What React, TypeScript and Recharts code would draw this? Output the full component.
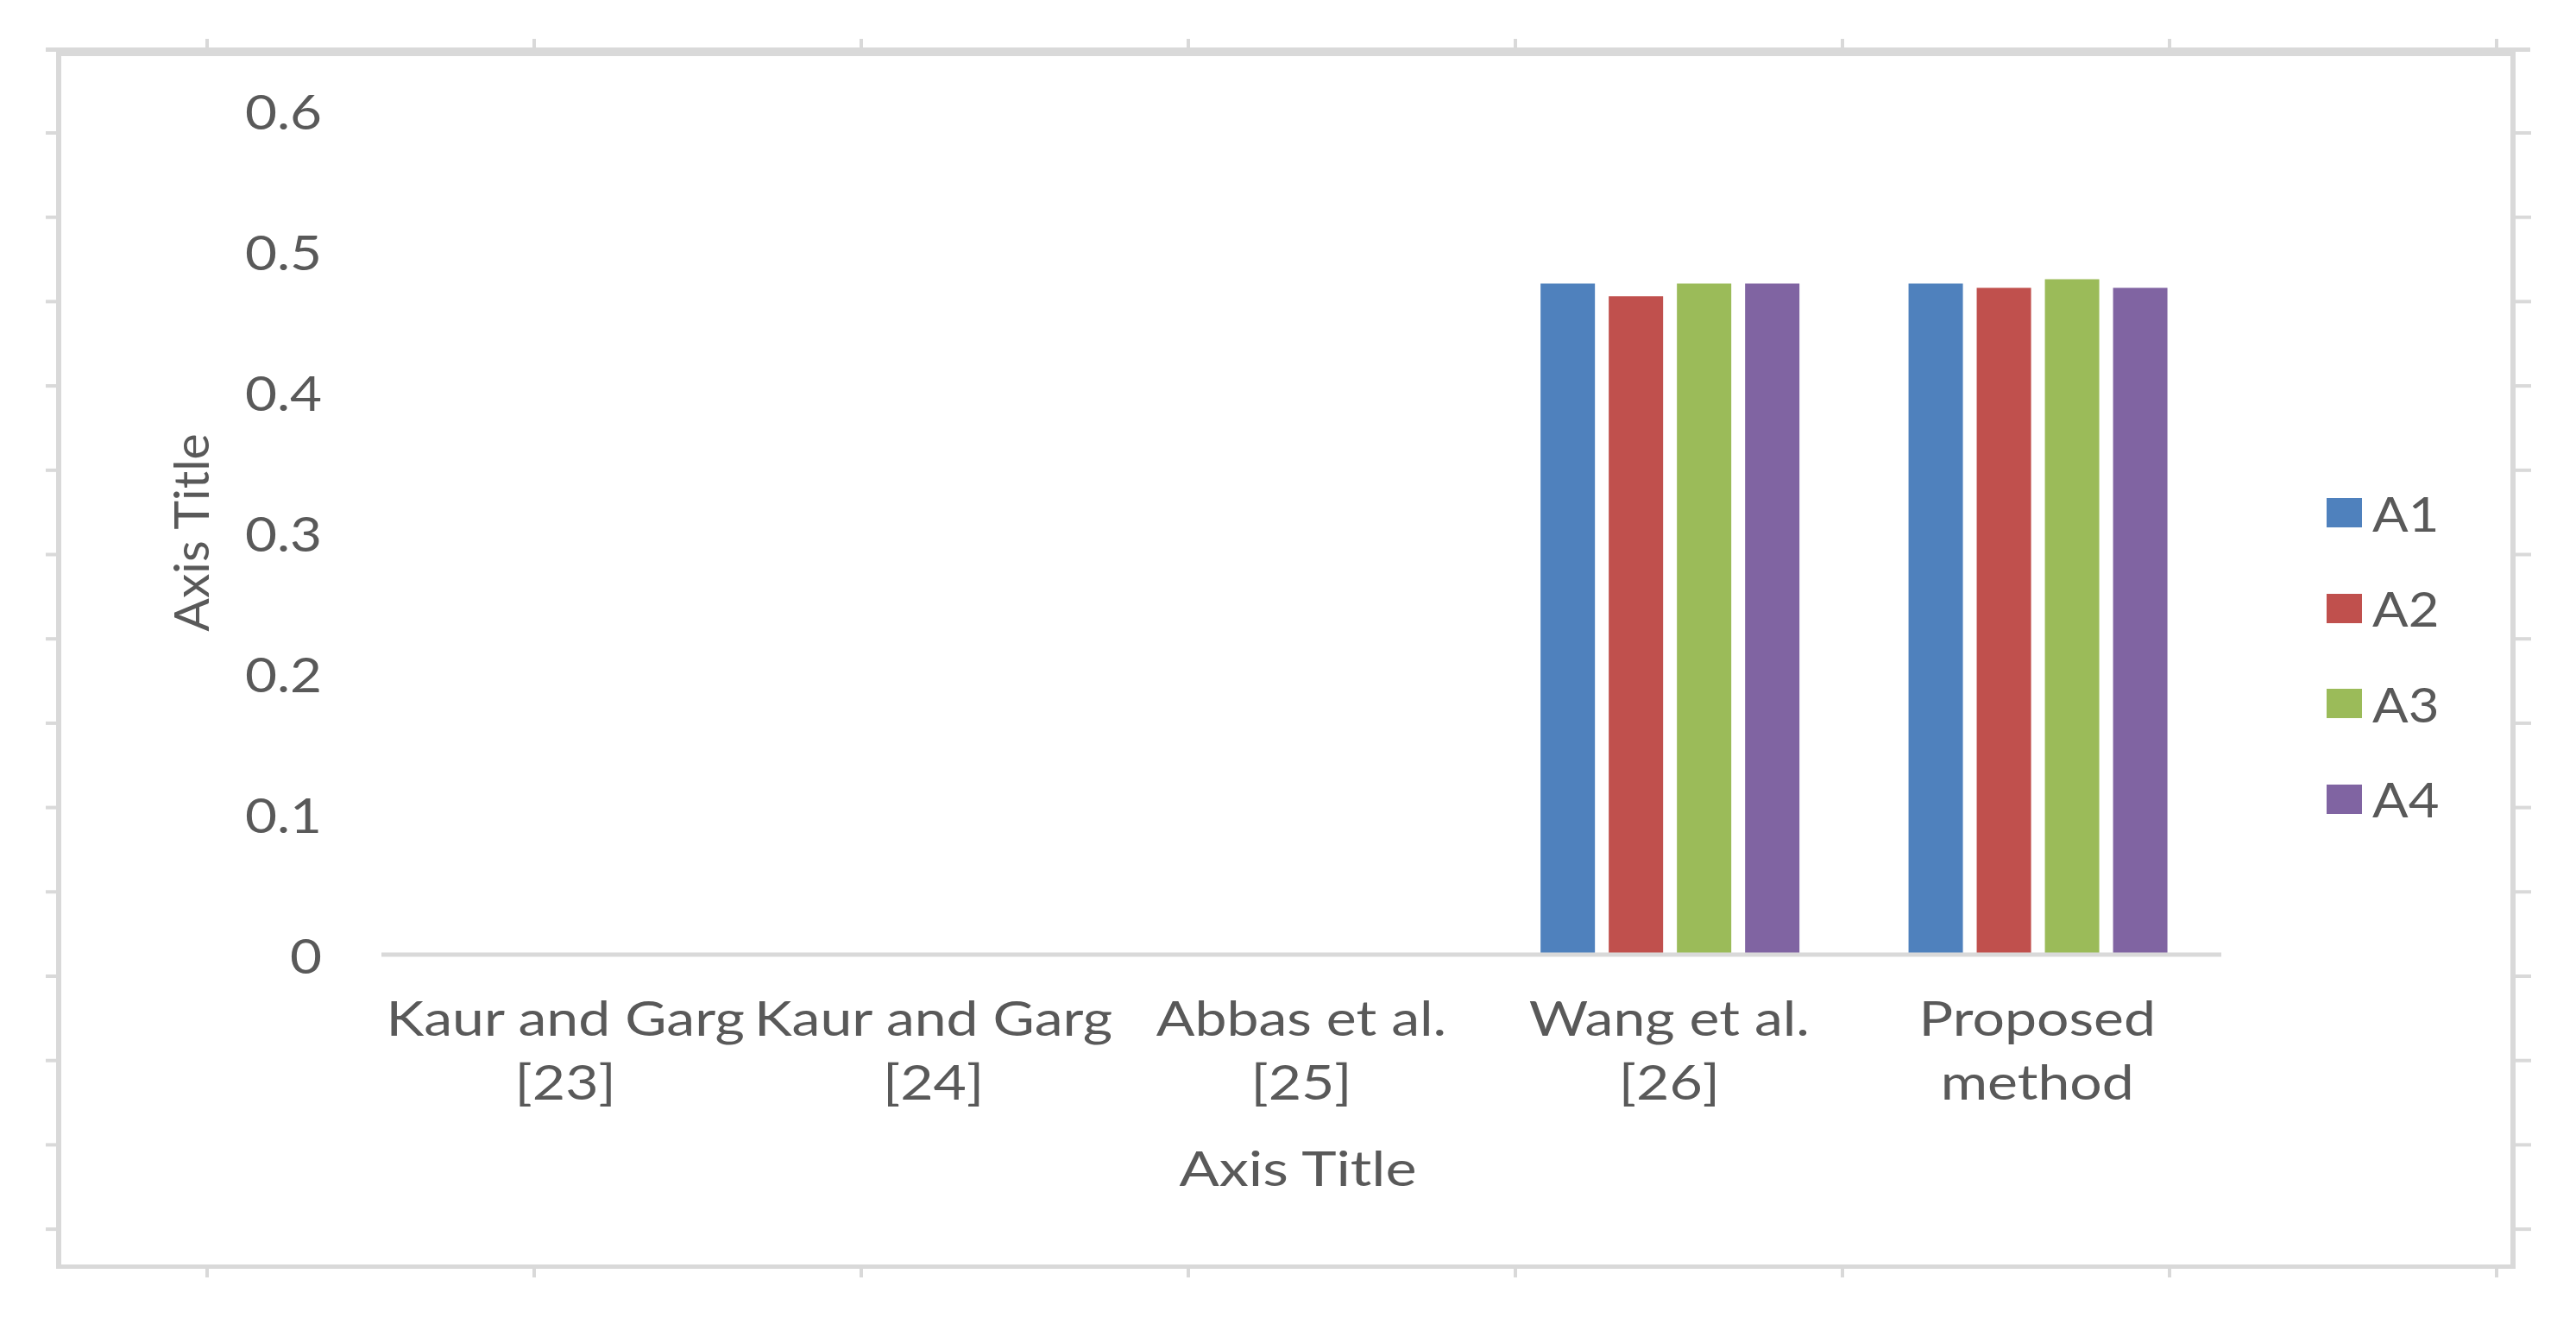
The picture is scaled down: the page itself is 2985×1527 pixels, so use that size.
import React from "react";
import { BarChart, Bar, XAxis, YAxis, Legend } from "recharts";

const CATEGORIES = [
  "Kaur and Garg\n[23]",
  "Kaur and Garg\n[24]",
  "Abbas et al.\n[25]",
  "Wang et al.\n[26]",
  "Proposed\nmethod",
];
const A1 = [0, 0, 0, 0.477, 0.477];
const A2 = [0, 0, 0, 0.468, 0.474];
const A3 = [0, 0, 0, 0.477, 0.48];
const A4 = [0, 0, 0, 0.477, 0.474];
const Y_TICKS = [0, 0.1, 0.2, 0.3, 0.4, 0.5, 0.6];
const SERIES = [
  { key: "A1", color: "#4F81BD" },
  { key: "A2", color: "#C0504D" },
  { key: "A3", color: "#9BBB59" },
  { key: "A4", color: "#8064A2" },
];

const data = CATEGORIES.map((c, i) => ({ name: c, A1: A1[i], A2: A2[i], A3: A3[i], A4: A4[i] }));

const W = 2985;
const H = 1527;
const FONT = "Lato, 'Open Sans', sans-serif";
const TXT = "#595959";
const FS = 57;
const SX = 1.16;
const FRAME = "#D9D9D9";

const stretch = (x: number, s: number = SX) => `translate(${x} 0) scale(${s} 1) translate(${-x} 0)`;

const CategoryTick = (props: any) => {
  const { x, y, payload } = props;
  const lines = String(payload.value).split("\n");
  return (
    <text x={x} y={y} textAnchor="middle" fill={TXT} fontSize={FS} fontFamily={FONT} transform={stretch(x)}>
      {lines.map((l, i) => (
        <tspan key={i} x={x} dy={i === 0 ? 94 : 74}>
          {l}
        </tspan>
      ))}
    </text>
  );
};

const ValueTick = (props: any) => {
  const { x, y, payload } = props;
  return (
    <text
      x={x}
      y={y}
      textAnchor="end"
      dominantBaseline="central"
      fill={TXT}
      fontSize={FS}
      fontFamily={FONT}
      transform={stretch(x, 1.12)}
    >
      {String(payload.value)}
    </text>
  );
};

const XTitle = (props: any) => {
  const vb = props.viewBox || { x: 442, y: 1106, width: 2132, height: 300 };
  const cx = vb.x + vb.width / 2 - 4;
  const cy = vb.y + 246;
  return (
    <text
      x={cx}
      y={cy}
      textAnchor="middle"
      dominantBaseline="central"
      fill={TXT}
      fontSize={FS}
      fontFamily={FONT}
      transform={stretch(cx, 1.2)}
    >
      Axis Title
    </text>
  );
};

const YTitle = (props: any) => {
  const vb = props.viewBox || { x: 0, y: 128, width: 442, height: 978 };
  const cx = vb.x + 220;
  const cy = vb.y + vb.height / 2;
  return (
    <text
      x={cx}
      y={cy}
      transform={`rotate(-90, ${cx}, ${cy})`}
      textAnchor="middle"
      dominantBaseline="central"
      fill={TXT}
      fontSize={FS}
      fontFamily={FONT}
    >
      Axis Title
    </text>
  );
};

const LegendContent = () => (
  <div style={{ fontFamily: FONT }}>
    {SERIES.map((s) => (
      <div key={s.key} style={{ height: 110.5, display: "flex", alignItems: "center" }}>
        <div style={{ width: 41, height: 34, background: s.color, marginRight: 12 }} />
        <span
          style={{
            fontSize: FS,
            lineHeight: 1,
            color: TXT,
            display: "inline-block",
            transform: "scaleX(1.08)",
            transformOrigin: "left center",
          }}
        >
          {s.key}
        </span>
      </div>
    ))}
  </div>
);

const Frame = () => {
  const topTicks = Array.from({ length: 8 }, (_, k) => 240 + k * 379);
  const sideTicks = Array.from({ length: 14 }, (_, k) => 154 + k * 97.7);
  return (
    <svg width={W} height={H} style={{ position: "absolute", left: 0, top: 0, pointerEvents: "none" }}>
      <rect x={53} y={55} width={2879} height={5} fill={FRAME} />
      <rect x={65} y={60} width={2850} height={5} fill={FRAME} />
      <rect x={65} y={55} width={6} height={1415} fill={FRAME} />
      <rect x={2909} y={55} width={6} height={1415} fill={FRAME} />
      <rect x={65} y={1465} width={2850} height={5} fill={FRAME} />
      {topTicks.map((t) => (
        <g key={t}>
          <rect x={t - 2} y={45} width={4} height={10} fill={FRAME} />
          <rect x={t - 2} y={1470} width={4} height={10} fill={FRAME} />
        </g>
      ))}
      {sideTicks.map((t) => (
        <g key={t}>
          <rect x={53} y={t - 2} width={12} height={4} fill={FRAME} />
          <rect x={2915} y={t - 2} width={18} height={4} fill={FRAME} />
        </g>
      ))}
    </svg>
  );
};

export default function App() {
  return (
    <div style={{ position: "absolute", left: 0, top: 0, width: W, height: H, background: "#fff" }}>
      <BarChart
        width={W}
        height={H}
        data={data}
        margin={{ top: 128, right: 411, bottom: 121, left: 0 }}
        barCategoryGap="15%"
        barGap={16}
      >
        <XAxis
          dataKey="name"
          height={300}
          axisLine={{ stroke: FRAME, strokeWidth: 5 }}
          tickLine={false}
          tickSize={0}
          tickMargin={0}
          interval={0}
          tick={<CategoryTick />}
          label={<XTitle />}
        />
        <YAxis
          width={442}
          domain={[0, 0.6]}
          ticks={Y_TICKS}
          axisLine={false}
          tickLine={false}
          tickSize={0}
          tickMargin={69}
          tick={<ValueTick />}
          label={<YTitle />}
        />
        <Legend
          layout="vertical"
          align="center"
          verticalAlign="middle"
          wrapperStyle={{ left: 2696, top: 539, width: 200 }}
          content={<LegendContent />}
        />
        {SERIES.map((s) => (
          <Bar key={s.key} dataKey={s.key} fill={s.color} isAnimationActive={false} />
        ))}
      </BarChart>
      <Frame />
    </div>
  );
}
